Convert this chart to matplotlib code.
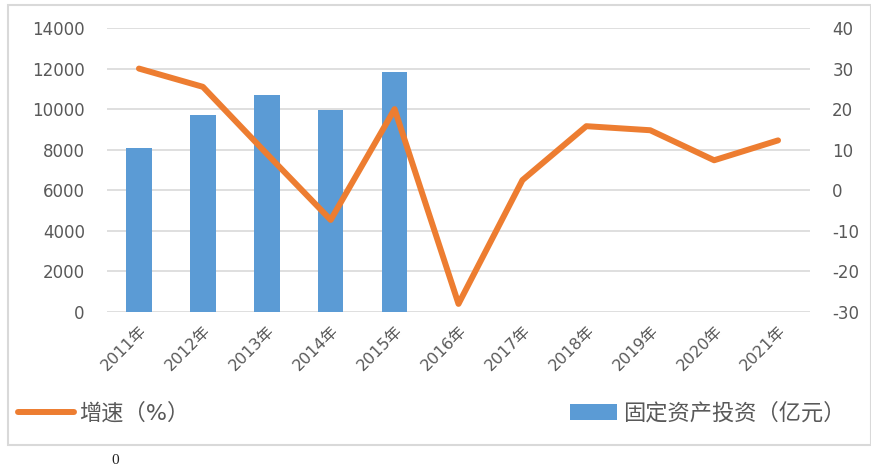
import numpy as np
import matplotlib.pyplot as plt
from matplotlib.lines import Line2D
from matplotlib.patches import Patch, Rectangle

plt.rcParams['font.family'] = ['DejaVu Sans', 'Noto Sans CJK SC']
plt.rcParams['axes.unicode_minus'] = False

years = ["2011年", "2012年", "2013年", "2014年", "2015年", "2016年",
         "2017年", "2018年", "2019年", "2020年", "2021年"]
investment = [8080, 9700, 10700, 9950, 11820,
              np.nan, np.nan, np.nan, np.nan, np.nan, np.nan]
growth = [30, 25.5, 9, -7.3, 20, -28, 2.5, 15.8, 14.8, 7.4, 12.3]

BAR_C = "#5b9bd5"
LINE_C = "#ed7d31"
TXT_C = "#595959"
GRID_C = "#d9d9d9"

W, H = 871, 473
fig = plt.figure(figsize=(W / 100, H / 100), dpi=100)
ax = fig.add_axes([107 / W, 1 - 312 / H, (810 - 107) / W, (312 - 28) / H])
ax2 = ax.twinx()

x = np.arange(len(years))
ax.bar(x, investment, width=0.4, color=BAR_C, zorder=2)
ax2.plot(x, growth, color=LINE_C, lw=4.3, solid_joinstyle="round",
         solid_capstyle="round", zorder=3)

ax.set_xlim(-0.5, len(years) - 0.5)
ax.set_ylim(0, 14000)
ax.set_yticks(range(0, 14001, 2000))
ax2.set_ylim(-30, 40)
ax2.set_yticks(range(-30, 41, 10))

ax.grid(axis="y", color=GRID_C, lw=1.2, zorder=0)
ax.set_axisbelow(True)
for a in (ax, ax2):
    for s in a.spines.values():
        s.set_visible(False)
ax.tick_params(axis="y", length=0, pad=16, labelsize=12, labelcolor=TXT_C)
ax2.tick_params(axis="y", length=0, pad=16, labelsize=12, labelcolor=TXT_C)

ax.set_xticks(x)
ax.set_xticklabels(years, rotation=45, ha="right", rotation_mode="anchor",
                   fontsize=11.5, color=TXT_C)
ax.tick_params(axis="x", length=0, pad=8)

# two separate legend entries at the bottom
h1 = [Line2D([0], [0], color=LINE_C, lw=4.3, solid_capstyle="round")]
h2 = [Patch(facecolor=BAR_C, edgecolor="none")]
leg1 = fig.legend(h1, ["增速（%）"], loc="center left",
                  bbox_to_anchor=(18 / W, 1 - 413 / H), frameon=False,
                  fontsize=16, handlelength=2.5, handletextpad=0.25,
                  borderpad=0, borderaxespad=0)
leg2 = fig.legend(h2, ["固定资产投资（亿元）"], loc="center left",
                  bbox_to_anchor=(570 / W, 1 - 413 / H), frameon=False,
                  fontsize=16, handlelength=2.1, handletextpad=0.3,
                  borderpad=0, borderaxespad=0)
for leg in (leg1, leg2):
    for t in leg.get_texts():
        t.set_color(TXT_C)

# light chart border
fig.patches.append(Rectangle((8 / W, 1 - 445 / H), (W - 8) / W, (445 - 5) / H,
                             transform=fig.transFigure, fill=False,
                             edgecolor=GRID_C, lw=1.5))

fig.text(115 / W, 1 - 460 / H, "0", family="Liberation Serif",
         fontsize=11, ha="center", va="center", color="#222222")

fig.savefig("out.png", dpi=100)
